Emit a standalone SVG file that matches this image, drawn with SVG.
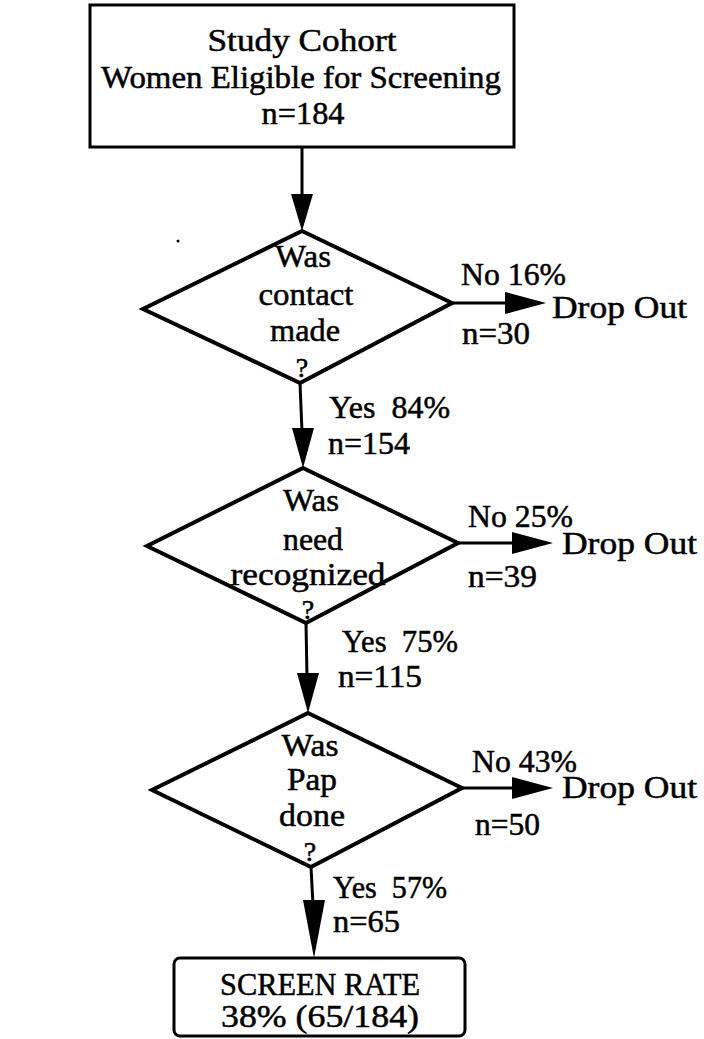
<svg xmlns="http://www.w3.org/2000/svg" width="704" height="1039" viewBox="0 0 704 1039">
<style>
  text { font-family: "Liberation Serif", "Times New Roman", serif; font-size: 31px; fill: #000; stroke: #000; stroke-width: 0.5; white-space: pre; }
  .c { text-anchor: middle; }
  .q { font-size: 28px; }
  .box { fill: #fff; stroke: #000; stroke-width: 3; }
  .dia { fill: #fff; stroke: #000; stroke-width: 4; stroke-linejoin: miter; }
  .ln { stroke: #000; stroke-width: 3; fill: none; }
  .hd { fill: #000; stroke: none; }
</style>
<rect width="704" height="1039" fill="#fff"/>

<g id="connectors">
  <line class="ln" x1="302" y1="147" x2="302" y2="200"/>
  <polygon class="hd" points="291,194 313,194 302,231"/>
  <line class="ln" x1="300" y1="383" x2="302" y2="432"/>
  <polygon class="hd" points="292,428 314,428 303,468"/>
  <line class="ln" x1="306" y1="623" x2="307" y2="678"/>
  <polygon class="hd" points="297,673 319,673 308,713"/>
  <line class="ln" x1="311" y1="867" x2="313" y2="905"/>
  <polygon class="hd" points="303,900 325,900 314,958"/>
  <line class="ln" x1="452" y1="303" x2="510" y2="303"/>
  <polygon class="hd" points="505,292 546,303 505,314"/>
  <line class="ln" x1="458" y1="543" x2="515" y2="543"/>
  <polygon class="hd" points="512,532 553,543 512,554"/>
  <line class="ln" x1="462" y1="788" x2="515" y2="788"/>
  <polygon class="hd" points="512,777 553,788 512,799"/>
</g>

<g id="labels">
  <text x="461" y="285" textLength="105" lengthAdjust="spacingAndGlyphs">No 16%</text>
  <text x="552" y="318" textLength="135" lengthAdjust="spacingAndGlyphs">Drop Out</text>
  <text x="462" y="344" textLength="68" lengthAdjust="spacingAndGlyphs">n=30</text>
  <text x="329" y="418" textLength="121" lengthAdjust="spacingAndGlyphs" xml:space="preserve">Yes  84%</text>
  <text x="328" y="454" textLength="82" lengthAdjust="spacingAndGlyphs">n=154</text>
  <text x="468" y="527" textLength="105" lengthAdjust="spacingAndGlyphs">No 25%</text>
  <text x="562" y="554" textLength="135" lengthAdjust="spacingAndGlyphs">Drop Out</text>
  <text x="468" y="587" textLength="69" lengthAdjust="spacingAndGlyphs">n=39</text>
  <text x="342" y="652" textLength="116" lengthAdjust="spacingAndGlyphs" xml:space="preserve">Yes  75%</text>
  <text x="338" y="687" textLength="84" lengthAdjust="spacingAndGlyphs">n=115</text>
  <text x="472" y="772" textLength="105" lengthAdjust="spacingAndGlyphs">No 43%</text>
  <text x="562" y="798" textLength="135" lengthAdjust="spacingAndGlyphs">Drop Out</text>
  <text x="475" y="835" textLength="65" lengthAdjust="spacingAndGlyphs">n=50</text>
  <text x="333" y="898" textLength="114" lengthAdjust="spacingAndGlyphs" xml:space="preserve">Yes  57%</text>
  <text x="333" y="932" textLength="67" lengthAdjust="spacingAndGlyphs">n=65</text>
</g>

<g id="start">
  <rect class="box" x="90" y="5" width="424" height="142"/>
  <text class="c" x="302" y="51" textLength="189" lengthAdjust="spacingAndGlyphs">Study Cohort</text>
  <text class="c" x="301" y="88" textLength="400" lengthAdjust="spacingAndGlyphs">Women Eligible for Screening</text>
  <text class="c" x="303" y="124" textLength="83" lengthAdjust="spacingAndGlyphs">n=184</text>
</g>

<g id="q1">
  <polygon class="dia" points="302,231 452,303 300,383 143,309"/>
  <text class="c" x="303" y="267" textLength="56" lengthAdjust="spacingAndGlyphs">Was</text>
  <text class="c" x="306" y="305" textLength="95" lengthAdjust="spacingAndGlyphs">contact</text>
  <text class="c" x="305" y="341" textLength="70" lengthAdjust="spacingAndGlyphs">made</text>
  <text class="c q" x="302" y="377">?</text>
</g>

<g id="q2">
  <polygon class="dia" points="303,468 458,543 306,623 147,546"/>
  <text class="c" x="311" y="511" textLength="56" lengthAdjust="spacingAndGlyphs">Was</text>
  <text class="c" x="313" y="550" textLength="60" lengthAdjust="spacingAndGlyphs">need</text>
  <text class="c" x="308" y="585" textLength="155" lengthAdjust="spacingAndGlyphs">recognized</text>
  <text class="c q" x="308" y="619">?</text>
</g>

<g id="q3">
  <polygon class="dia" points="308,713 462,788 311,867 152,790"/>
  <text class="c" x="310" y="756" textLength="57" lengthAdjust="spacingAndGlyphs">Was</text>
  <text class="c" x="312" y="790" textLength="50" lengthAdjust="spacingAndGlyphs">Pap</text>
  <text class="c" x="312" y="826" textLength="66" lengthAdjust="spacingAndGlyphs">done</text>
  <text class="c q" x="310" y="861">?</text>
</g>

<g id="result">
  <rect class="box" x="174" y="958" width="291" height="78" rx="6" stroke-width="2.5"/>
  <text class="c" x="320" y="995" textLength="200" lengthAdjust="spacingAndGlyphs">SCREEN RATE</text>
  <text class="c" x="320" y="1027" textLength="198" lengthAdjust="spacingAndGlyphs">38% (65/184)</text>
</g>

<g id="speck">
  <circle cx="178" cy="241" r="1.5" fill="#000"/>
</g>
</svg>
